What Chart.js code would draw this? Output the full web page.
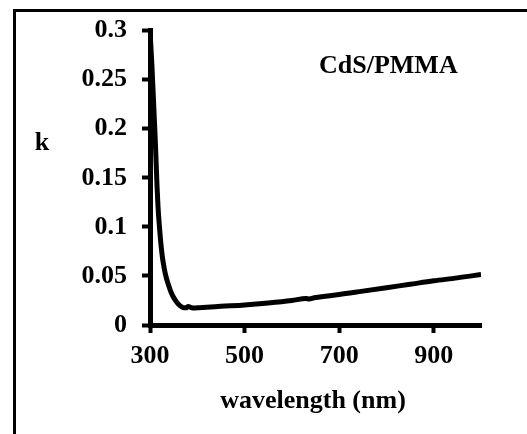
<!DOCTYPE html>
<html>
<head>
<meta charset="utf-8">
<script src="https://cdn.jsdelivr.net/npm/chart.js@4"></script>
<style>
  html, body { margin: 0; padding: 0; background: #fff; overflow: hidden; }
  canvas { display: block; }
</style>
</head>
<body>
<canvas id="chart" width="527" height="434"></canvas>
<script>
// wavelength (nm) and extinction coefficient k
const wavelength = [300, 304, 308, 311, 313, 315, 317, 320, 323, 326, 330, 334, 339, 344, 350, 357, 364, 370, 376, 381, 386, 392, 400, 420, 450, 500, 550, 600, 630, 636, 650, 700, 750, 800, 850, 900, 950, 1000];
const kValues = [0.300, 0.265, 0.222, 0.19, 0.165, 0.14, 0.12, 0.1, 0.083, 0.07, 0.058, 0.049, 0.041, 0.034, 0.028, 0.023, 0.0195, 0.0178, 0.0175, 0.0188, 0.018, 0.0172, 0.0175, 0.018, 0.019, 0.0205, 0.0225, 0.025, 0.027, 0.0265, 0.028, 0.031, 0.0345, 0.038, 0.0415, 0.045, 0.048, 0.0515];
const xTicks = [300, 500, 700, 900];
const yTicks = [0, 0.05, 0.1, 0.15, 0.2, 0.25, 0.3];

const FONT = "'Liberation Serif', 'Times New Roman', serif";

// outer frame (only its left and top edges are in view) and free text
const decor = {
  id: "decor",
  beforeDraw(chart) {
    const { ctx, width, height } = chart;
    ctx.save();
    ctx.strokeStyle = "#000";
    ctx.lineWidth = 3;
    ctx.beginPath();
    ctx.moveTo(14.5, height + 5);
    ctx.lineTo(14.5, 10.5);
    ctx.lineTo(width + 5, 10.5);
    ctx.stroke();
    ctx.restore();
  },
  afterDraw(chart) {
    const { ctx } = chart;
    ctx.save();
    ctx.fillStyle = "#000";
    ctx.font = `bold 26px ${FONT}`;
    ctx.textBaseline = "alphabetic";
    ctx.textAlign = "left";
    ctx.fillText("CdS/PMMA", 319, 73);
    ctx.textAlign = "center";
    ctx.fillText("k", 42, 150);
    ctx.fillText("wavelength (nm)", 313, 408);
    ctx.restore();
  },
};

new Chart(document.querySelector("#chart"), {
  type: "line",
  data: {
    datasets: [
      {
        data: wavelength.map((w, i) => ({ x: w, y: kValues[i] })),
        borderColor: "#000",
        borderWidth: 5,
        pointRadius: 0,
        cubicInterpolationMode: "monotone",
        fill: false,
      },
    ],
  },
  options: {
    responsive: false,
    animation: false,
    layout: { padding: { top: 25, right: 46, left: 0, bottom: 0 } },
    plugins: { legend: { display: false }, tooltip: { enabled: false } },
    scales: {
      x: {
        type: "linear",
        min: 300,
        max: 1000,
        afterBuildTicks: (s) => { s.ticks = xTicks.map((v) => ({ value: v })); },
        afterFit: (s) => { s.height = 109; },
        border: { color: "#000", width: 5 },
        grid: { drawOnChartArea: false, color: "#000", tickLength: 8, tickWidth: 4 },
        ticks: { color: "#000", padding: 8, maxRotation: 0, callback: (v) => String(v), font: { family: FONT, size: 26, weight: "bold" } },
      },
      y: {
        min: 0,
        max: 0.3,
        afterBuildTicks: (s) => { s.ticks = yTicks.map((v) => ({ value: v })); },
        afterFit: (s) => { s.width = 150; },
        border: { color: "#000", width: 5 },
        grid: { drawOnChartArea: false, color: "#000", tickLength: 8, tickWidth: 4 },
        ticks: { color: "#000", padding: 15, callback: (v) => String(v), font: { family: FONT, size: 26, weight: "bold" } },
      },
    },
  },
  plugins: [decor],
});
</script>
</body>
</html>
